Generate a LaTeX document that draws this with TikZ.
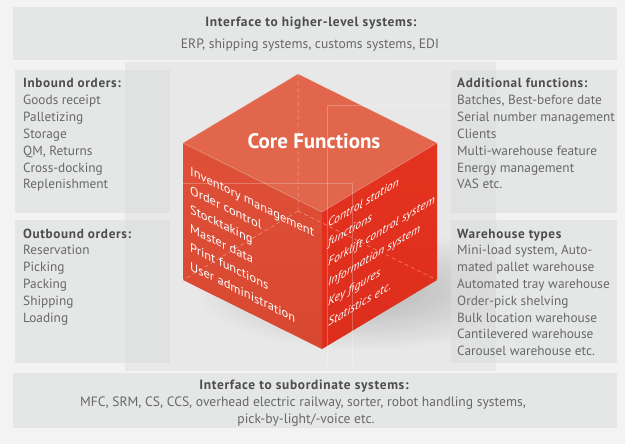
\documentclass[tikz,border=0pt]{standalone}
\usepackage{fontspec}
\setmainfont{PT Sans}
\usetikzlibrary{fadings}
\definecolor{bg}{HTML}{F3F3F3}
\definecolor{boxc}{HTML}{E5E6E6}
\definecolor{ovl}{HTML}{DCDDDD}
\definecolor{headc}{HTML}{4D4D4D}
\definecolor{bodyc}{HTML}{686868}
\definecolor{topface}{HTML}{E1664B}
\definecolor{leftfaceA}{HTML}{E05038}
\definecolor{leftfaceB}{HTML}{D8472F}
\definecolor{rightfaceA}{HTML}{E4331F}
\definecolor{rightfaceB}{HTML}{DD2D1C}
\tikzfading[name=shadowfade, inner color=transparent!0, outer color=transparent!100]
\begin{document}
\begin{tikzpicture}[x=1pt,y=-1pt,
  band/.style={fill=boxc, draw=none, inner sep=0pt, anchor=north west, minimum width=604pt, minimum height=#1},
  sidebox/.style={fill=ovl, fill opacity=0.585, draw=none, inner sep=0pt, anchor=north west, minimum width=155pt, minimum height=143pt},
  headtxt/.style={font=\fontsize{13.2}{15}\selectfont\bfseries\addfontfeatures{LetterSpace=5}, text=headc, inner sep=0pt, anchor=base west},
  bodytxt/.style={font=\fontsize{13.3}{15}\selectfont, text=bodyc, inner sep=0pt, anchor=base west},
  bandhead/.style={font=\fontsize{13.4}{15}\selectfont\bfseries\addfontfeatures{LetterSpace=5}, text=headc, inner sep=0pt, anchor=base},
  bandbody/.style={font=\fontsize{13.6}{15}\selectfont, text=bodyc, inner sep=0pt, anchor=base},
  lface/.style={font=\fontsize{12.5}{15}\selectfont, text=white, yslant=-0.5, inner sep=0pt, anchor=base west},
  rface/.style={font=\fontsize{11.8}{14}\selectfont\itshape, text=white, yslant=0.6, inner sep=0pt, anchor=base west},
  faint/.style={draw=white, draw opacity=0.25, line width=0.6pt},
  hidden/.style={draw=white, draw opacity=0.45, line width=0.5pt, dash pattern=on 4pt off 3pt}]
\useasboundingbox (0,0) rectangle (625,444);
\fill[bg] (0,0) rectangle (625,444);

% bands
\node[band=53pt] (topbox) at (13,7) {};
\node[bandhead] (toptitle) at (311,27) {Interface to higher-level systems:};
\node[bandbody] (topline) at (310,49) {ERP, shipping systems, customs systems, EDI};

\node[band=55pt] (botbox) at (13,373) {};
\node[bandhead] (bottitle) at (304,389) {Interface to subordinate systems:};
\node[bandbody] (botline1) at (303,406) {MFC, SRM, CS, CCS, overhead electric railway, sorter, robot handling systems,};
\node[bandbody] (botline2) at (306,423) {pick-by-light/-voice etc.};

% back panel
\shade[top color=black!9, middle color=black!21, bottom color=black!9] (125,63) rectangle (496,370);
\begin{scope}
  \clip (125,63) rectangle (496,370);
  \fill[black, opacity=0.22, path fading=shadowfade] (365,290) ellipse [x radius=170, y radius=60];
\end{scope}

% side boxes
\node[sidebox] (inbox) at (15,70) {};
\node[sidebox] (outbox) at (15,220) {};
\node[sidebox, minimum width=166pt] (addbox) at (451,70) {};
\node[sidebox, minimum width=166pt] (whbox) at (451,220) {};

\node[headtxt] (inh) at (23,88) {Inbound orders:};
\foreach \t [count=\i] in {Goods receipt, Palletizing, Storage, {QM, Returns}, Cross-docking, Replenishment}
  \node[bodytxt] (in\i) at (23,{88+16.8*\i}) {\t};

\node[headtxt] (outh) at (23,238) {Outbound orders:};
\foreach \t [count=\i] in {Reservation, Picking, Packing, Shipping, Loading}
  \node[bodytxt] (out\i) at (23,{238+16.8*\i}) {\t};

\node[headtxt] (addh) at (457,88) {Additional functions:};
\foreach \t [count=\i] in {{Batches, Best-before date}, Serial number management, Clients, Multi-warehouse feature, Energy management, VAS etc.}
  \node[bodytxt] (add\i) at (457,{88+16.8*\i}) {\t};

\node[headtxt] (whh) at (457,238) {Warehouse types};
\foreach \t [count=\i] in {{Mini-load system, Auto-}, mated pallet warehouse, Automated tray warehouse, Order-pick shelving, Bulk location warehouse, Cantilevered warehouse, Carousel warehouse etc.}
  \node[bodytxt] (wh\i) at (457,{238+16.8*\i}) {\t};

% cube
\coordinate (T) at (298,74);
\coordinate (L) at (183,143);
\coordinate (F) at (322,212);
\coordinate (R) at (437,143);
\coordinate (LB) at (183,280);
\coordinate (FB) at (322,349);
\coordinate (RB) at (437,280);
\coordinate (HB) at (298,211);

\fill[topface] (T) -- (L) -- (F) -- (R) -- cycle;
\shade[top color=leftfaceA, bottom color=leftfaceB] (L) -- (F) -- (FB) -- (LB) -- cycle;
\shade[top color=rightfaceA, bottom color=rightfaceB] (F) -- (R) -- (RB) -- (FB) -- cycle;
\draw[draw=white, draw opacity=0.3, line width=0.5pt] (L) -- (F) -- (R);
\draw[draw=white, draw opacity=0.18, line width=0.5pt] (L) -- (T) -- (R);
\draw[hidden] (T) -- (HB) (HB) -- (LB) (HB) -- (RB);

% faint ghost lines
\draw[faint] (183,183) -- (352,183) -- (352,367);
\draw[faint] (450,105) -- (327,105) -- (327,367);

% cube texts
\node[font=\fontsize{21}{24}\selectfont\bfseries, text=white, inner sep=0pt] (core) at (314,141) {Core Functions};

\foreach \t/\yy [count=\i] in {Inventory management/175, Order control/194, Stocktaking/213, Master data/232, Print functions/251, User administration/270}
  \node[lface] (lf\i) at (190,\yy) {\t};

\foreach \t/\yy [count=\i] in {Control station/228, functions/247, Forklift control system/267, Information system/287, Key figures/307, Statistics etc./327}
  \node[rface] (rf\i) at (328,\yy) {\t};
\end{tikzpicture}
\end{document}
